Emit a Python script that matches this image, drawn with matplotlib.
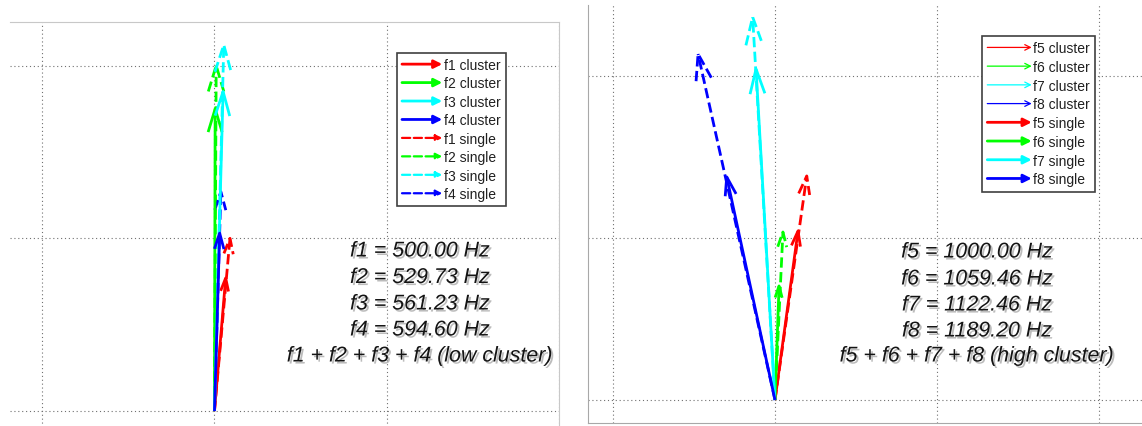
import numpy as np
import matplotlib
matplotlib.use("Agg")
import matplotlib.pyplot as plt
import matplotlib.patheffects as pe
from matplotlib.legend_handler import HandlerBase
from matplotlib.patches import FancyArrowPatch

W, H = 1142, 427

colors = ["#ff0000", "#00ff00", "#00ffff", "#0000ff"]

# low cluster: f1..f4 phasor tips (solid = cluster, dashed = single)
low_names = ["f1", "f2", "f3", "f4"]
low_freqs = [500.00, 529.73, 561.23, 594.60]
low_cluster_x = [0.065, 0.004, 0.050, 0.030]
low_cluster_y = [0.77, 1.75, 1.85, 1.03]
low_single_x = [0.090, 0.010, 0.054, 0.037]
low_single_y = [1.00, 2.00, 2.12, 1.27]

# high cluster: f5..f8
high_names = ["f5", "f6", "f7", "f8"]
high_freqs = [1000.00, 1059.46, 1122.46, 1189.20]
high_cluster_x = [0.142, 0.025, -0.117, -0.298]
high_cluster_y = [1.043, 0.704, 2.043, 1.377]
high_single_x = [0.196, 0.049, -0.138, -0.475]
high_single_y = [1.383, 1.037, 2.364, 2.136]


class ArrowKey:
    def __init__(self, color, ls, lw, head, ms):
        self.color, self.ls, self.lw, self.head, self.ms = color, ls, lw, head, ms


class HandlerArrowKey(HandlerBase):
    def create_artists(self, legend, h, xdescent, ydescent, width, height,
                       fontsize, trans):
        y = height / 2 - ydescent
        p = FancyArrowPatch((-xdescent, y), (width - xdescent, y),
                            arrowstyle=h.head, mutation_scale=h.ms,
                            color=h.color, lw=h.lw, linestyle=h.ls,
                            shrinkA=0, shrinkB=0, transform=trans)
        return [p]


def draw_arrow(ax, x, y, color, ls):
    L = np.hypot(x, y)
    ux, uy = x / L, y / L
    hl = 0.03 + 0.06 * L
    hw = 0.3 * hl
    bx, by = x - hl * ux, y - hl * uy
    ax.plot([0, x], [0, y], color=color, ls=ls, lw=2, solid_capstyle="butt")
    ax.plot([bx - hw * uy, x, bx + hw * uy], [by + hw * ux, y, by - hw * ux],
            color=color, ls=ls, lw=2, solid_capstyle="butt")


def make_axes(fig, left, right, top, bottom, x0, y0, unit):
    # pixel box -> figure fraction, limits from origin pixel and pixel size
    ax = fig.add_axes([left / W, 1 - bottom / H, (right - left) / W,
                       (bottom - top) / H])
    ax.set_xlim((left - x0) / unit, (right - x0) / unit)
    ax.set_ylim((y0 - bottom) / unit, (y0 - top) / unit)
    ax.set_xticks([-1, 0, 1, 2])
    ax.set_yticks([0, 1, 2])
    ax.tick_params(length=0, labelbottom=False, labelleft=False)
    ax.grid(True, color="#707070", ls=(0, (1, 2.5)), lw=0.8)
    ax.set_axisbelow(True)
    return ax


def add_text(ax, lines, cx, ys_px, y0, unit, x0):
    for line, yp in zip(lines, ys_px):
        ax.text((cx - x0) / unit, (y0 - yp) / unit, line, ha="center",
                va="center", fontsize=15.4, style="italic",
                family="Liberation Sans", color="#141414",
                path_effects=[pe.withSimplePatchShadow(
                    offset=(1.5, -1.5), shadow_rgbFace="#909090", alpha=0.6)])


def add_legend(ax, handles, labels, x_px, y_px, hlen, spacing, pad):
    leg = ax.legend(handles, labels, handler_map={ArrowKey: HandlerArrowKey()},
                    loc="upper left", bbox_to_anchor=(x_px / W, 1 - y_px / H),
                    bbox_transform=fig.transFigure, borderaxespad=0,
                    prop={"family": "Liberation Sans", "size": 10},
                    handlelength=hlen, handletextpad=0.12,
                    labelspacing=spacing, borderpad=pad, fancybox=False,
                    framealpha=1, edgecolor="#404040")
    leg.get_frame().set_linewidth(1.2)
    for t in leg.get_texts():
        t.set_color("#202020")
    return leg


fig = plt.figure(figsize=(W / 100, H / 100), dpi=100)

# ---- left panel ----
axL = make_axes(fig, 10, 559, 23, 438, 215, 412, 172.7)
for s in ["left", "bottom"]:
    axL.spines[s].set_visible(False)
for s in ["top", "right"]:
    axL.spines[s].set_color("#c8c8c8")

for i in range(4):
    draw_arrow(axL, low_single_x[i], low_single_y[i], colors[i], "--")
for i in range(4):
    draw_arrow(axL, low_cluster_x[i], low_cluster_y[i], colors[i], "-")

low_lines = [f"{n} = {f:.2f} Hz" for n, f in zip(low_names, low_freqs)]
low_lines.append(" + ".join(low_names) + " (low cluster)")
add_text(axL, low_lines, 421, [252, 278.5, 305, 331, 357], 412, 172.7, 215)

hL = [ArrowKey(c, "-", 2, "-|>", 12) for c in colors] + \
     [ArrowKey(c, "--", 1.6, "-|>", 9) for c in colors]
labL = [f"{n} cluster" for n in low_names] + [f"{n} single" for n in low_names]
add_legend(axL, hL, labL, 397, 54, 2.9, 0.32, 0.36)

# ---- right panel ----
axR = make_axes(fig, 588, 1150, 6, 424, 775, 401, 162)
for s in ["top", "right"]:
    axR.spines[s].set_visible(False)
for s in ["left", "bottom"]:
    axR.spines[s].set_color("#a8a8a8")

for i in range(4):
    draw_arrow(axR, high_single_x[i], high_single_y[i], colors[i], "--")
for i in range(4):
    draw_arrow(axR, high_cluster_x[i], high_cluster_y[i], colors[i], "-")

high_lines = [f"{n} = {f:.2f} Hz" for n, f in zip(high_names, high_freqs)]
high_lines.append(" + ".join(high_names) + " (high cluster)")
add_text(axR, high_lines, 977, [253, 280, 306, 332, 357], 401, 162, 775)

hR = [ArrowKey(c, "-", 0.9, "->", 10) for c in colors] + \
     [ArrowKey(c, "-", 2, "-|>", 12) for c in colors]
labR = [f"{n} cluster" for n in high_names] + [f"{n} single" for n in high_names]
add_legend(axR, hR, labR, 982, 37, 3.2, 0.34, 0.38)

fig.savefig("out.png", dpi=100)
